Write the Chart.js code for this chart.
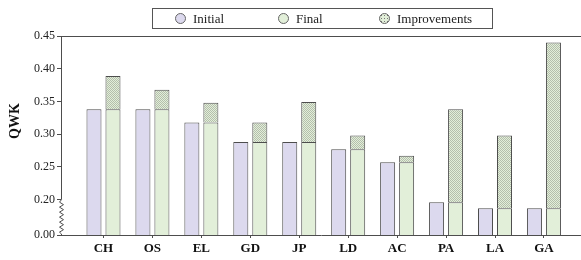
<!DOCTYPE html>
<html>
<head>
<meta charset="utf-8">
<script src="https://cdn.jsdelivr.net/npm/chart.js@4.4.1/dist/chart.umd.min.js"></script>
<style>
body { margin: 0; background: #fff; }
#wrap { position: relative; width: 581px; height: 260px; }
#legend { position: absolute; left: 152px; top: 8px; width: 339px; height: 19px; border: 1px solid #555;
  font: 13px 'Liberation Serif', serif; color: #222; }
.item { position: absolute; top: 1px; line-height: 17px; white-space: nowrap; }
.dot { display: inline-block; width: 9px; height: 9px; border-radius: 50%; border: 1px solid #666;
  vertical-align: -1px; margin-right: 7px; }
</style>
</head>
<body>
<div id="wrap">
  <canvas id="myChart"></canvas>
  <div id="legend"></div>
</div>
<script>
const categories = ['CH', 'OS', 'EL', 'GD', 'JP', 'LD', 'AC', 'PA', 'LA', 'GA'];
const initialQWK = [0.338, 0.338, 0.318, 0.288, 0.288, 0.277, 0.257, 0.196, 0.187, 0.187];
const finalQWK = [0.338, 0.338, 0.318, 0.288, 0.288, 0.277, 0.257, 0.196, 0.187, 0.187];
const improvements = [0.051, 0.030, 0.030, 0.030, 0.061, 0.021, 0.010, 0.142, 0.111, 0.253];
const yTicks = [0.20, 0.25, 0.30, 0.35, 0.40, 0.45];
const seriesNames = ['Initial', 'Final', 'Improvements'];

const yMin = 0.146;   // bottom of broken axis, shown as 0.00
const colInitial = '#dcd9ee';
const colFinal = '#e2efd9';
const colBorder = '#4d4d4d';

function makePattern() {
    // small stipple for the improvements part
    const c = document.createElement('canvas');
    c.width = 2; c.height = 2;
    const g = c.getContext('2d');
    g.fillStyle = colFinal;
    g.fillRect(0, 0, 2, 2);
    g.fillStyle = '#b4beac';
    g.fillRect(0, 0, 1, 1);
    g.fillRect(1, 1, 1, 1);
    return g.createPattern(c, 'repeat');
}

function pts(arr) {
    return arr.map((v, i) => ({ x: i, y: v }));
}

// legend
const legendColors = [colInitial, colFinal, null];
const legendLeft = [22, 125, 226];
const legend = document.getElementById('legend');
seriesNames.forEach((name, i) => {
    const item = document.createElement('span');
    item.className = 'item';
    item.style.left = legendLeft[i] + 'px';
    const dot = document.createElement('span');
    dot.className = 'dot';
    if (legendColors[i]) {
        dot.style.background = legendColors[i];
    } else {
        dot.style.background = colFinal + ' radial-gradient(#777 0.7px, transparent 0.9px) 0 0 / 3px 3px';
    }
    item.appendChild(dot);
    item.appendChild(document.createTextNode(name));
    legend.appendChild(item);
});

const brokenAxis = {
    id: 'brokenAxis',
    afterDraw(chart) {
        const ctx = chart.ctx;
        const a = chart.chartArea;
        const y = chart.scales.y;
        const x0 = a.left + 0.5;
        ctx.save();
        ctx.strokeStyle = colBorder;
        ctx.lineWidth = 1;
        // top frame line
        ctx.beginPath();
        ctx.moveTo(a.left, Math.round(a.top) + 0.5);
        ctx.lineTo(a.right, Math.round(a.top) + 0.5);
        ctx.stroke();
        // y axis with zigzag break
        const yBreak = y.getPixelForValue(yTicks[0]);
        ctx.beginPath();
        ctx.moveTo(x0, a.top);
        ctx.lineTo(x0, yBreak);
        let yy = yBreak;
        let side = -1;
        while (yy < a.bottom - 4) {
            yy += 2.5;
            ctx.lineTo(x0 + side * 2, yy);
            side = -side;
        }
        ctx.lineTo(x0, a.bottom - 1);
        ctx.lineTo(x0, a.bottom);
        ctx.stroke();
        // y title
        ctx.fillStyle = '#111';
        ctx.font = "bold 14px 'Liberation Serif', serif";
        ctx.textAlign = 'center';
        ctx.textBaseline = 'middle';
        ctx.translate(15, 121);
        ctx.rotate(-Math.PI / 2);
        ctx.fillText('QWK', 0, 0);
        ctx.restore();
    }
};

const data = {
    datasets: [{
        label: seriesNames[0],
        data: pts(initialQWK),
        stack: 'initial',
        backgroundColor: colInitial,
        borderColor: colBorder,
        borderWidth: 1
    }, {
        label: seriesNames[1],
        data: pts(finalQWK),
        stack: 'final',
        backgroundColor: colFinal,
        borderColor: colBorder,
        borderWidth: 1
    }, {
        label: seriesNames[2],
        data: pts(improvements),
        stack: 'final',
        backgroundColor: makePattern(),
        borderColor: colBorder,
        borderWidth: 1
    }]
};

const config = {
    type: 'bar',
    data: data,
    options: {
        responsive: true,
        maintainAspectRatio: false,
        animation: false,
        categoryPercentage: 0.7765,
        barPercentage: 0.79,
        layout: { padding: { top: 36, right: 0, left: 0, bottom: 0 } },
        plugins: { legend: { display: false }, tooltip: { enabled: false } },
        scales: {
            x: {
                type: 'linear',
                offset: false,
                min: -0.868,
                max: 9.757,
                afterBuildTicks: s => { s.ticks = categories.map((c, i) => ({ value: i })); },
                afterFit: s => { s.height = 25; },
                ticks: {
                    callback: v => categories[v],
                    color: '#111',
                    padding: 3,
                    maxRotation: 0,
                    autoSkip: false,
                    font: { family: "'Liberation Serif', serif", size: 13, weight: 'bold' }
                },
                grid: { offset: false, drawOnChartArea: false, drawTicks: true, tickLength: 3, color: colBorder },
                border: { display: true, color: colBorder, width: 1 }
            },
            y: {
                stacked: true,
                min: yMin,
                max: 0.45,
                afterBuildTicks: s => { s.ticks = [yMin].concat(yTicks).map(v => ({ value: v })); },
                afterFit: s => { s.width = 61; },
                ticks: {
                    callback: v => (v === yMin ? '0.00' : v.toFixed(2)),
                    color: '#222',
                    padding: 2,
                    font: { family: "'Liberation Serif', serif", size: 12 }
                },
                grid: { drawOnChartArea: false, drawTicks: true, tickLength: 4, color: colBorder },
                border: { display: false }
            }
        }
    },
    plugins: [brokenAxis]
};

const myChart = new Chart(document.getElementById('myChart'), config);
</script>
</body>
</html>
